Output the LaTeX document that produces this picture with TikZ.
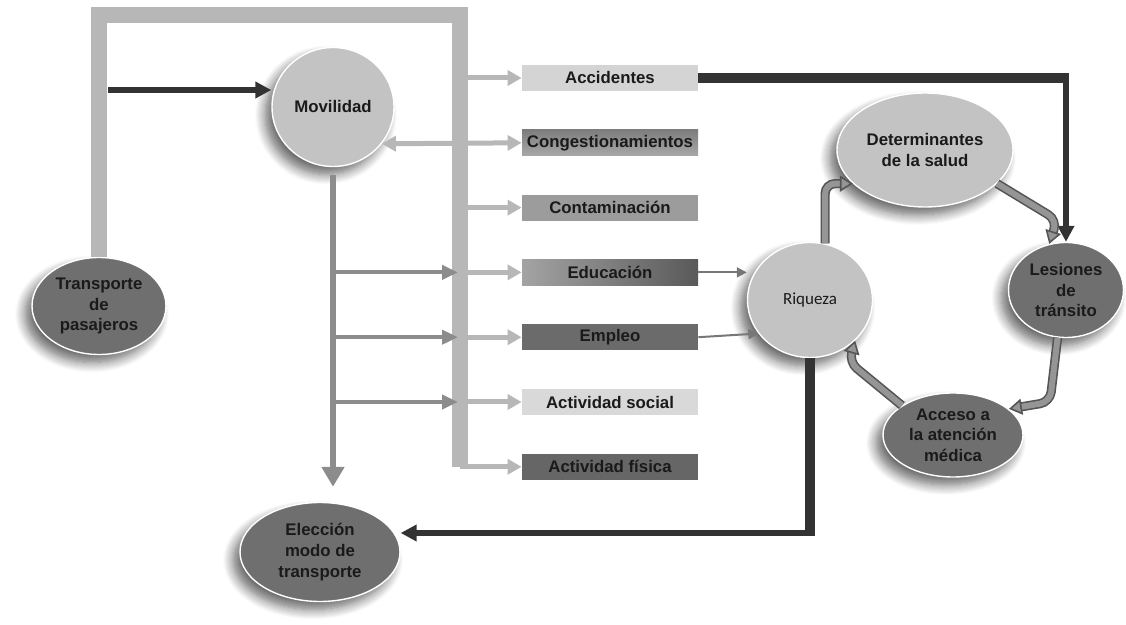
\documentclass[tikz,border=0pt]{standalone}
\usepackage{fontspec}
\setmainfont{Liberation Sans}
\newfontfamily\riqfont{Carlito}
\usetikzlibrary{shapes.geometric, arrows.meta, positioning, calc, shadows.blur}
\definecolor{frameGray}{HTML}{B7B7B7}
\definecolor{labelInk}{HTML}{1A1A1A}
\definecolor{bubbleLight}{HTML}{C3C3C3}
\definecolor{bubbleDark}{HTML}{6F6F6F}
\definecolor{darkLine}{HTML}{333333}
\definecolor{treeGray}{HTML}{8C8C8C}
\definecolor{thinGray}{HTML}{777777}
\definecolor{loopFill}{HTML}{959595}
\definecolor{loopEdge}{HTML}{555555}
\newcommand{\labfont}{\fontsize{8.4}{10.3}\selectfont\bfseries}
\newcommand{\riqlabel}{\riqfont\fontsize{8.5}{10}\selectfont}
\tikzstyle{factor} = [rectangle, minimum width=88pt, minimum height=13pt, inner sep=0pt, text centered, text=labelInk, font=\labfont]
\tikzstyle{bubble} = [ellipse, inner sep=0pt, align=center, text=labelInk, font=\labfont, draw=white, line width=0.7pt, blur shadow={shadow xshift=-3.5pt, shadow yshift=-4pt, shadow blur steps=10, shadow blur radius=5pt, shadow opacity=60}]
\tikzstyle{framebar} = [draw=frameGray, line width=8pt]
\tikzstyle{branch} = [draw=frameGray, line width=2.5pt, -{Triangle[length=7pt,width=7.5pt]}]
\tikzstyle{trunk} = [draw=treeGray, line width=2.6pt, -{Triangle[length=10pt,width=11pt]}]
\tikzstyle{twig} = [draw=treeGray, line width=2pt, -{Triangle[length=8pt,width=7pt]}]
\tikzstyle{darkbar} = [draw=darkLine, line width=5.3pt]
\tikzstyle{darkarrow} = [draw=darkLine, line width=2.6pt, -{Triangle[length=8pt,width=8pt]}]
\tikzstyle{thinarrow} = [draw=thinGray, line width=1pt, -{Triangle[length=5pt,width=5pt]}]
\tikzstyle{looparrow} = [draw=loopEdge, double=loopFill, line width=0.8pt, double distance=3pt, rounded corners=5pt, -{Triangle[length=6.5pt,width=8pt,fill=loopFill]}]

\begin{document}
\begin{tikzpicture}[x=0.5pt, y=-0.5pt, node distance=32.4pt]
\useasboundingbox (0,0) rectangle (1126,625);

% factor boxes
\node (accidentes) [factor, fill=black!17] at (610,78) {Accidentes};
\node (congest) [factor, top color=black!51, bottom color=black!34, below of=accidentes] {Congestionamientos};
\node (contam) [factor, fill=black!39, below of=congest] {Contaminación};
\node (educacion) [factor, left color=black!36, right color=black!65, below of=contam] {Educación};
\node (empleo) [factor, fill=black!58, below of=educacion] {Empleo};
\node (social) [factor, fill=black!15, below of=empleo] {Actividad social};
\node (fisica) [factor, fill=black!60, below of=social] {Actividad física};

% bubbles
\node (transporte) [bubble, fill=bubbleDark, minimum width=67pt, minimum height=48.5pt] at (99,306) {Transporte\\de\\pasajeros};
\node (movilidad) [bubble, fill=bubbleLight, minimum width=61pt, minimum height=59.5pt] at (333,107) {Movilidad};
\node (eleccion) [bubble, fill=bubbleDark, minimum width=80pt, minimum height=49.5pt] at (320,552) {Elección\\modo de\\transporte};
\node (riqueza) [bubble, fill=bubbleLight, font=\riqlabel, minimum width=62.5pt, minimum height=57.5pt] at (810,300) {Riqueza};
\node (determinantes) [bubble, fill=bubbleLight, minimum width=88pt, minimum height=57pt] at (925,150) {Determinantes\\de la salud};
\node (lesiones) [bubble, fill=bubbleDark, minimum width=57.5pt, minimum height=47.5pt] at (1066,290) {Lesiones\\de\\tránsito};
\node (acceso) [bubble, fill=bubbleDark, minimum width=70pt, minimum height=42pt] at (953,435) {Acceso a\\la atención\\médica};

% frame from Transporte de pasajeros
\coordinate (frameR) at (460,15);
\coordinate (frameB) at (460,467);
\draw [framebar] (transporte.north) |- (frameR) -- (frameB);
\foreach \fac in {accidentes, contam, educacion, empleo, social, fisica}
  \draw [branch] (frameB |- \fac.west) -- (\fac.west);
\draw [branch, {Triangle[length=7pt,width=7.5pt]}-{Triangle[length=7pt,width=7.5pt]}] (movilidad.-37) -- (congest.west);

% Movilidad
\coordinate (tpStart) at (108,90);
\draw [darkarrow] (tpStart) -- (tpStart -| movilidad.west);
\draw [trunk, shorten <=4pt, shorten >=7.5pt] (movilidad.south) -- (movilidad.south |- eleccion.north);
\foreach \fac in {educacion, empleo, social}
  \draw [twig, shorten >=1pt] (movilidad.south |- \fac.west) -- (frameB |- \fac.west);

% Riqueza
\draw [thinarrow] (educacion.east) -- (educacion.east -| riqueza.west);
\draw [thinarrow] (empleo.east) -- (riqueza.213);
\coordinate (riqCorner) at (810,533);
\draw [darkbar] (riqueza.south) -- ([yshift=-1.3pt]riqCorner);
\draw [darkarrow] (riqCorner) -- (riqCorner -| eleccion.east);

% Accidentes
\coordinate (accCorner) at (lesiones.north |- accidentes.east);
\draw [darkbar] (accidentes.east) -- ([xshift=1.3pt]accCorner);
\draw [darkarrow] (accCorner) -- (lesiones.north);

% health loop
\coordinate (bendA) at (1057,220);
\coordinate (bendB) at (1050,402);
\coordinate (bendC) at (849,362);
\draw [looparrow] (riqueza.75) |- (determinantes.205);
\draw [looparrow] (determinantes.-25) -- (bendA) -- (lesiones.110);
\draw [looparrow] (lesiones.-100) -- (bendB) -- (acceso.25);
\draw [looparrow] (acceso.150) -- (bendC) -- (riqueza.-42);

\end{tikzpicture}
\end{document}
